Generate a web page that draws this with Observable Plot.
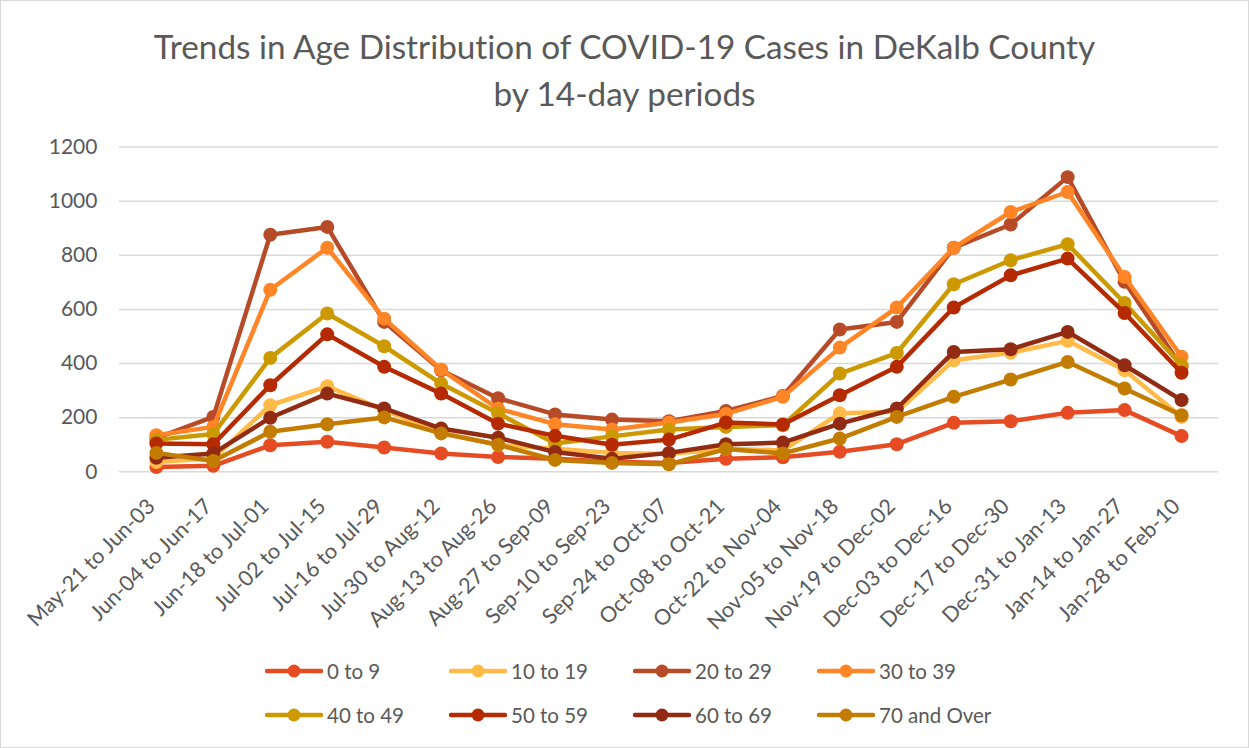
<!DOCTYPE html>
<html><head><meta charset="utf-8">
<script src="https://cdn.jsdelivr.net/npm/d3@7"></script>
<script src="https://cdn.jsdelivr.net/npm/@observablehq/plot@0.6"></script>
<style>
body{margin:0;background:#fff;}
#chart{position:relative;width:1249px;height:748px;box-sizing:border-box;border:1px solid #d9d9d9;font-family:Lato,"Open Sans",sans-serif;color:#595959;overflow:hidden;background:#fff;font-variant-ligatures:none}
#title{position:absolute;left:0;top:22px;width:100%;text-align:center;font-size:33.3px;line-height:47px;}
#plot{position:absolute;left:-1px;top:-1px;}
#plot svg{font-variant-ligatures:none}
.item{position:absolute;display:flex;align-items:center;font-size:20.5px;height:30px;white-space:nowrap}
.item svg{margin-right:4px}
</style></head>
<body><div id="chart"><div id="title">Trends in Age Distribution of COVID-19 Cases in DeKalb County<br>by 14-day periods</div><div id="plot"></div><div id="legend"></div></div>
<script>
const periods = ["May-21 to Jun-03","Jun-04 to Jun-17","Jun-18 to Jul-01","Jul-02 to Jul-15","Jul-16 to Jul-29","Jul-30 to Aug-12","Aug-13 to Aug-26","Aug-27 to Sep-09","Sep-10 to Sep-23","Sep-24 to Oct-07","Oct-08 to Oct-21","Oct-22 to Nov-04","Nov-05 to Nov-18","Nov-19 to Dec-02","Dec-03 to Dec-16","Dec-17 to Dec-30","Dec-31 to Jan-13","Jan-14 to Jan-27","Jan-28 to Feb-10"];
const yTicks = [0,200,400,600,800,1000,1200];
const ageGroups = ["0 to 9","10 to 19","20 to 29","30 to 39","40 to 49","50 to 59","60 to 69","70 and Over"];
const colors = ["#E64C24","#FFBA47","#B84B27","#FF8527","#CC9900","#B52A00","#922B13","#C27C00"];

const age0to9   = [18, 22, 98, 111, 90, 68, 55, 48, 37, 33, 48, 54, 74, 102, 181, 187, 218, 228, 132];
const age10to19 = [36, 50, 246, 316, 228, 145, 100, 85, 70, 66, 85, 79, 216, 222, 412, 440, 484, 375, 203];
const age20to29 = [125, 203, 876, 905, 554, 375, 272, 212, 193, 187, 225, 280, 526, 554, 828, 914, 1089, 702, 388];
const age30to39 = [135, 166, 673, 828, 566, 378, 233, 176, 156, 182, 214, 277, 459, 607, 828, 960, 1034, 720, 425];
const age40to49 = [118, 140, 421, 585, 464, 326, 216, 105, 131, 156, 166, 172, 363, 439, 693, 782, 841, 624, 394];
const age50to59 = [105, 102, 320, 508, 388, 289, 178, 133, 100, 119, 182, 175, 283, 388, 607, 726, 788, 587, 366];
const age60to69 = [52, 68, 200, 289, 234, 160, 126, 73, 48, 70, 102, 108, 178, 234, 443, 453, 517, 394, 265];
const age70plus = [70, 40, 148, 176, 201, 142, 100, 44, 33, 28, 84, 68, 123, 203, 277, 341, 406, 308, 209];
const seriesValues = [age0to9, age10to19, age20to29, age30to39, age40to49, age50to59, age60to69, age70plus];

const marks = [
  Plot.gridY(yTicks, {stroke: "#D9D9D9", strokeOpacity: 1, strokeWidth: 1.5}),
  Plot.axisY(yTicks, {tickSize: 0, tickPadding: 22, fontSize: 21, tickFormat: d => String(d)}),
  Plot.axisX({tickSize: 0, tickRotate: -45, textAnchor: "end", lineAnchor: "middle", tickPadding: 31, dx: -5, fontSize: 21.5, label: null})
];
ageGroups.forEach((g, i) => {
  const d = periods.map((p, j) => ({period: p, value: seriesValues[i][j], group: g}));
  marks.push(Plot.line(d, {x: "period", y: "value", stroke: colors[i], strokeWidth: 4.5, strokeLinejoin: "round"}));
  marks.push(Plot.dot(d, {x: "period", y: "value", fill: colors[i], stroke: "none", r: 7}));
});

const chart = Plot.plot({
  width: 1249, height: 640,
  marginTop: 146.7, marginBottom: 168.3, marginLeft: 119, marginRight: 30,
  x: {type: "point", domain: periods, padding: 0.5, label: null},
  y: {domain: [0, 1200], label: null},
  style: {fontFamily: "Lato, 'Open Sans', sans-serif", color: "#595959", background: "transparent", overflow: "visible"},
  marks
});
document.getElementById("plot").appendChild(chart);

const legend = document.getElementById("legend");
ageGroups.forEach((g, i) => {
  const col = i % 4, row = Math.floor(i / 4);
  const div = document.createElement("div");
  div.className = "item";
  div.style.left = (264 + col * 184) + "px";
  div.style.top = (655 + row * 44) + "px";
  div.innerHTML = `<svg width="58" height="16"><line x1="2" y1="8" x2="56" y2="8" stroke="${colors[i]}" stroke-width="4.5" stroke-linecap="round"/><circle cx="29" cy="8" r="6.5" fill="${colors[i]}"/></svg><span>${g}</span>`;
  legend.appendChild(div);
});
</script>
</body></html>
